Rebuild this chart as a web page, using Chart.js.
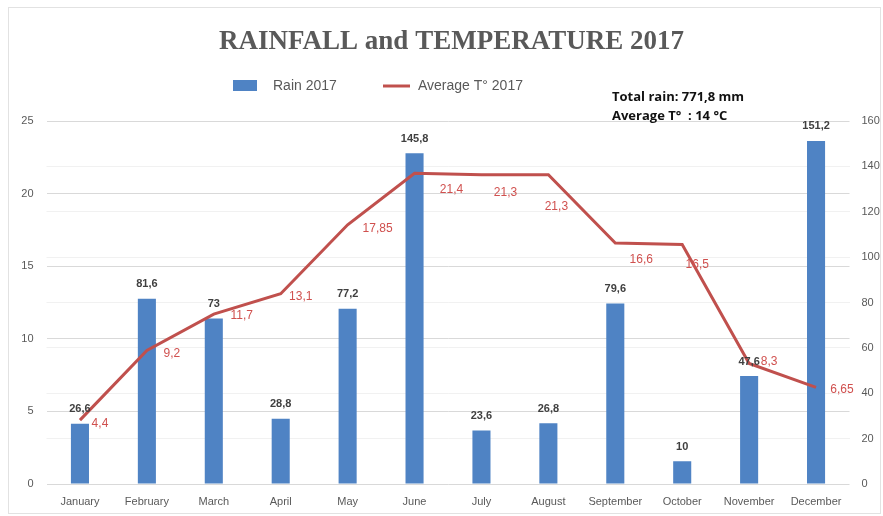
<!DOCTYPE html>
<html>
<head>
<meta charset="utf-8">
<title>Rainfall and temperature 2017</title>
<script src="https://cdn.jsdelivr.net/npm/chart.js@4.4.0/dist/chart.umd.min.js"></script>
<style>
  body { margin: 0; background: #fff; }
  canvas { display: block; }
</style>
</head>
<body>
<canvas id="myChart" width="883" height="516"></canvas>
<script>
const months = ["January", "February", "March", "April", "May", "June",
  "July", "August", "September", "October", "November", "December"];
const rain2017 = [26.6, 81.6, 73, 28.8, 77.2, 145.8, 23.6, 26.8, 79.6, 10, 47.6, 151.2];
const avgTemp2017 = [4.4, 9.2, 11.7, 13.1, 17.85, 21.4, 21.3, 21.3, 16.6, 16.5, 8.3, 6.65];
const tempTicks = [0, 5, 10, 15, 20, 25];
const rainTicks = [0, 20, 40, 60, 80, 100, 120, 140, 160];

const BLUE = "#4f83c4";
const RED = "#c0504d";
const GREY_TEXT = "#595959";

// decimal comma like the original sheet
const fmt = (v) => String(v).replace(".", ",");

const totalRain = rain2017.reduce((s, v) => s + v, 0);
const meanTemp = avgTemp2017.reduce((s, v) => s + v, 0) / avgTemp2017.length;

// where the red labels sit, relative to each point (dx, dy)
const tempLabelShift = [[20, 4], [25, 3], [28, 2], [20, 3], [30, 4], [37, 16],
  [24, 18], [8, 32], [26, 17], [15, 20], [20, -2], [26, 2]];

const frameAndLabels = {
  id: "frameAndLabels",
  beforeDraw(chart) {
    const ctx = chart.ctx;
    ctx.save();
    ctx.fillStyle = "#fff";
    ctx.fillRect(0, 0, chart.width, chart.height);
    ctx.strokeStyle = "#e2e2e2";
    ctx.lineWidth = 1;
    ctx.strokeRect(8.5, 7.5, chart.width - 11, chart.height - 10);
    ctx.restore();
  },
  afterDatasetsDraw(chart) {
    const ctx = chart.ctx;
    ctx.save();

    // rain values above the bars
    ctx.font = "bold 11px 'Liberation Sans'";
    ctx.fillStyle = "#404040";
    ctx.textAlign = "center";
    ctx.textBaseline = "bottom";
    chart.getDatasetMeta(0).data.forEach((bar, i) => {
      ctx.fillText(fmt(rain2017[i]), bar.x, bar.y - 9);
    });

    // temperature values next to the line
    ctx.font = "12px 'Liberation Sans'";
    ctx.fillStyle = "#d0504e";
    ctx.textBaseline = "middle";
    chart.getDatasetMeta(1).data.forEach((pt, i) => {
      const [dx, dy] = tempLabelShift[i];
      ctx.fillText(fmt(avgTemp2017[i]), pt.x + dx, pt.y + dy);
    });
    ctx.restore();
  },
  afterDraw(chart) {
    const ctx = chart.ctx;
    ctx.save();

    // legend
    ctx.fillStyle = BLUE;
    ctx.fillRect(233, 80, 24, 11);
    ctx.strokeStyle = RED;
    ctx.lineWidth = 3;
    ctx.beginPath();
    ctx.moveTo(383, 86);
    ctx.lineTo(410, 86);
    ctx.stroke();
    ctx.font = "14px 'Liberation Sans'";
    ctx.fillStyle = GREY_TEXT;
    ctx.textBaseline = "middle";
    ctx.textAlign = "left";
    ctx.fillText(chart.data.datasets[0].label, 273, 86);
    ctx.fillText(chart.data.datasets[1].label, 418, 86);

    // totals box
    ctx.font = "bold 13px 'Open Sans'";
    ctx.fillStyle = "#111";
    ctx.fillText("Total rain: " + fmt(totalRain.toFixed(1)) + " mm", 612, 97);
    ctx.fillText("Average T°  : " + Math.round(meanTemp) + " °C", 612, 116);
    ctx.restore();
  }
};

function generateGraph() {
  const ctx = document.getElementById("myChart").getContext("2d");
  new Chart(ctx, {
    data: {
      labels: months,
      datasets: [
        {
          type: "bar",
          label: "Rain 2017",
          data: rain2017,
          yAxisID: "y1",
          backgroundColor: BLUE,
          borderWidth: 0,
          categoryPercentage: 1,
          barPercentage: 0.27,
          order: 2,
        },
        {
          type: "line",
          label: "Average T° 2017",
          data: avgTemp2017,
          yAxisID: "y",
          borderColor: RED,
          backgroundColor: RED,
          borderWidth: 3,
          pointRadius: 0,
          tension: 0,
          order: 1,
        },
      ],
    },
    options: {
      responsive: false,
      animation: false,
      layout: { padding: { left: 20, right: 0, top: 0, bottom: 0 } },
      plugins: {
        legend: { display: false },
        tooltip: { enabled: false },
        title: {
          display: true,
          text: "RAINFALL and TEMPERATURE 2017",
          color: GREY_TEXT,
          font: { family: "'Liberation Serif'", size: 27, weight: "bold" },
          padding: { top: 26, bottom: 62.6 },
        },
      },
      scales: {
        x: {
          grid: { display: false },
          border: { display: false },
          ticks: {
            color: GREY_TEXT,
            font: { family: "'Liberation Sans'", size: 11 },
            padding: 3,
            maxRotation: 0,
            autoSkip: false,
          },
          afterFit: (scale) => { scale.height = 32; },
        },
        y: {
          position: "left",
          min: tempTicks[0],
          max: tempTicks[tempTicks.length - 1],
          ticks: {
            stepSize: tempTicks[1] - tempTicks[0],
            color: GREY_TEXT,
            font: { family: "'Liberation Sans'", size: 11 },
            padding: 13,
          },
          grid: { color: "#d9d9d9", drawTicks: false },
          border: { display: false },
          afterFit: (scale) => { scale.width = 26.5; },
        },
        y1: {
          position: "right",
          min: rainTicks[0],
          max: rainTicks[rainTicks.length - 1],
          ticks: {
            stepSize: rainTicks[1] - rainTicks[0],
            color: GREY_TEXT,
            font: { family: "'Liberation Sans'", size: 11 },
            padding: 12,
          },
          grid: {
            drawTicks: false,
            color: (c) => (c.tick && c.tick.value % 160 === 0 ? "rgba(0,0,0,0)" : "#f1f1f1"),
          },
          border: { display: false },
          afterFit: (scale) => { scale.width = 33.5; },
        },
      },
    },
    plugins: [frameAndLabels],
  });
}

generateGraph();
</script>
</body>
</html>
